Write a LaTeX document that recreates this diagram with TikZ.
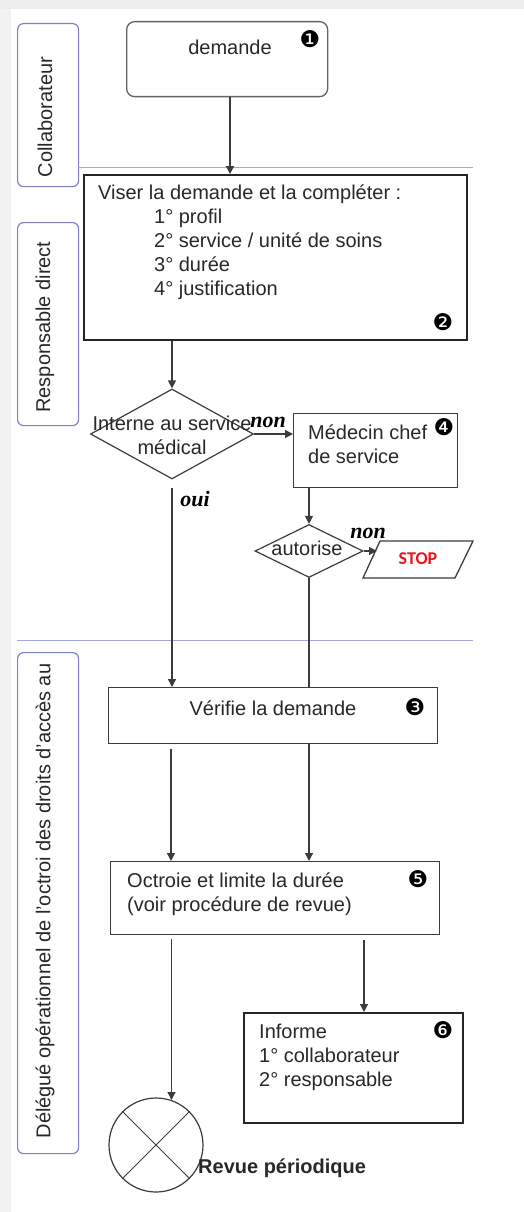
\documentclass[tikz,border=0pt]{standalone}
\usepackage{fontspec}
\setmainfont{Liberation Sans}
\newfontfamily\yesnofont{Liberation Serif}
\newfontfamily\dingfont{DejaVu Sans}
\newfontfamily\stopfont{Carlito}
\usetikzlibrary{arrows.meta,shapes.geometric,calc}
\definecolor{lanec}{RGB}{128,128,200}
\definecolor{sepc}{RGB}{165,165,225}
\definecolor{ink}{RGB}{40,40,40}
\definecolor{edge}{RGB}{60,60,60}
\definecolor{stopred}{RGB}{235,20,30}
\begin{document}
\begin{tikzpicture}[x=1pt,y=-1pt,
  lane/.style={draw=lanec, line width=1.2pt, rounded corners=6pt, minimum width=61, inner sep=0},
  lanetext/.style={rotate=90, font=\fontsize{20}{24}\selectfont, text=ink},
  sepline/.style={draw=sepc, line width=0.9pt},
  box/.style={draw=edge, line width=1.3pt, inner sep=0},
  heavybox/.style={draw=black!85, line width=2pt, inner sep=0},
  roundbox/.style={draw=edge!80, line width=1.3pt, rounded corners=8pt, inner sep=0},
  decision/.style={diamond, draw=edge, line width=1.2pt, inner sep=0},
  txt/.style={font=\fontsize{20}{24}\selectfont, text=ink, inner sep=0, align=left, anchor=north west},
  ctxt/.style={font=\fontsize{20}{24}\selectfont, text=ink, inner sep=0, align=center},
  badge/.style={font=\dingfont\fontsize{23}{23}\selectfont, inner sep=0},
  yesno/.style={font=\yesnofont\bfseries\itshape\fontsize{22}{24}\selectfont, inner sep=0},
  arr/.style={draw=edge, line width=1.2pt, -{Triangle[length=8pt,width=8pt]}},
  plain/.style={draw=edge, line width=1.2pt}
]
\useasboundingbox (0,0) rectangle (524,1212);
\fill[white] (0,0) rectangle (524,1212);
\fill[black!7] (0,0) rectangle (524,9);
\fill[black!5] (0,9) rectangle (11,1212);

% swimlane headers and separators
\node[lane, minimum height=163, anchor=north west] (lane1) at (17,23) {};
\node[lanetext] (lane1t) at (45,117) {Collaborateur};
\node[lane, minimum height=203, anchor=north west] (lane2) at (17,222) {};
\node[lanetext] (lane2t) at (45,327) {Responsable direct};
\node[lane, minimum height=501, anchor=north west] (lane3) at (17,652) {};
\node[lanetext] (lane3t) at (45,901) {Délégué opérationnel de l'octroi des droits d'accès au};
\draw[sepline] (78,167) -- (473,167);
\draw[sepline] (17,640) -- (473,640);

% 1 - request
\node[roundbox, minimum width=201, minimum height=75, anchor=north west] (dem) at (126,21) {};
\node[ctxt] (demt) at (230,47) {demande};
\node[badge] (b1) at (310,39) {❶};

% 2 - endorse and complete
\node[heavybox, minimum width=383, minimum height=165, anchor=north west] (vis) at (83,174) {};
\node[txt] (vist) at (98,185) {Viser la demande et la compléter :};
\node[txt] (visl) at (154,209) {1° profil\\2° service / unité de soins\\3° durée\\4° justification};
\node[badge] (b2) at (443,322) {❷};

% decision: internal to the medical service
\node[decision, minimum width=163, minimum height=90] (d1) at (172,434) {};
\node[ctxt, anchor=north] (d1t) at (172,416) {Interne au service\\médical};

% 4 - head physician
\node[box, minimum width=164, minimum height=74, anchor=north west] (med) at (293,413) {};
\node[txt] (medt) at (308,425) {Médecin chef\\de service};
\node[badge] (b4) at (444,427) {❹};

% decision: authorised
\node[decision, minimum width=108, minimum height=53] (d2) at (309,551) {};
\node[ctxt] (d2t) at (307,548) {autorise};

% stop terminal
\draw[box] (363,578) -- (380,541) -- (473,541) -- (455,578) -- cycle;
\node[font=\stopfont\bfseries\fontsize{18}{20}\selectfont, text=stopred, inner sep=0] (stop) at (418,559) {STOP};
\coordinate (stopin) at (377,551);

% 3 - check the request
\node[box, minimum width=329, minimum height=56, anchor=north west] (ver) at (108,687) {};
\node[ctxt] (vert) at (273,708) {Vérifie la demande};
\node[badge] (b3) at (415,707) {❸};

% 5 - grant and limit duration
\node[box, minimum width=329, minimum height=73, anchor=north west] (oct) at (110,861) {};
\node[txt] (octt) at (127,873) {Octroie et limite la durée\\(voir procédure de revue)};
\node[badge] (b5) at (418,879) {❺};

% 6 - inform
\node[heavybox, minimum width=219, minimum height=110, anchor=north west] (inf) at (243,1012) {};
\node[txt] (inft) at (259,1024) {Informe\\1° collaborateur\\2° responsable};
\node[badge] (b6) at (443,1030) {❻};

% periodic review
\node[circle, draw=edge, line width=1.2pt, minimum size=94, inner sep=0] (rev) at (156,1145) {};
\draw[draw=edge, line width=1pt] (rev.45) -- (rev.225) (rev.135) -- (rev.315);
\node[font=\bfseries\fontsize{20}{24}\selectfont, text=ink, inner sep=0, anchor=west] (revt) at (198,1168) {Revue périodique};

% connectors
\draw[arr] (dem.south -| 230,0) -- (vis.north -| 230,0);
\draw[arr] (vis.south -| d1.north) -- (d1.north);
\draw[arr] (d1.east) -- (d1.east -| med.west);
\node[yesno] (non1) at (268,422) {non};
\draw[arr] (med.south -| d2.north) -- (d2.north);
\draw[arr] (d2.east) -- (stopin);
\node[yesno] (non2) at (368,533) {non};
\draw[plain] (d2.south) -- (d2.south |- ver.north);
\draw[arr] ($(d1.south)+(0,8)$) -- (d1.south |- ver.north);
\node[yesno] (oui) at (195,499) {oui};
\draw[arr] ($(ver.south -| 171,0)+(0,5)$) -- (oct.north -| 171,0);
\draw[arr] (ver.south -| d2.south) -- (oct.north -| d2.south);
\draw[arr] ($(oct.south -| rev.71)+(0,4)$) -- (rev.71);
\draw[arr] ($(oct.south -| 364,0)+(0,5)$) -- (inf.north -| 364,0);
\end{tikzpicture}
\end{document}
